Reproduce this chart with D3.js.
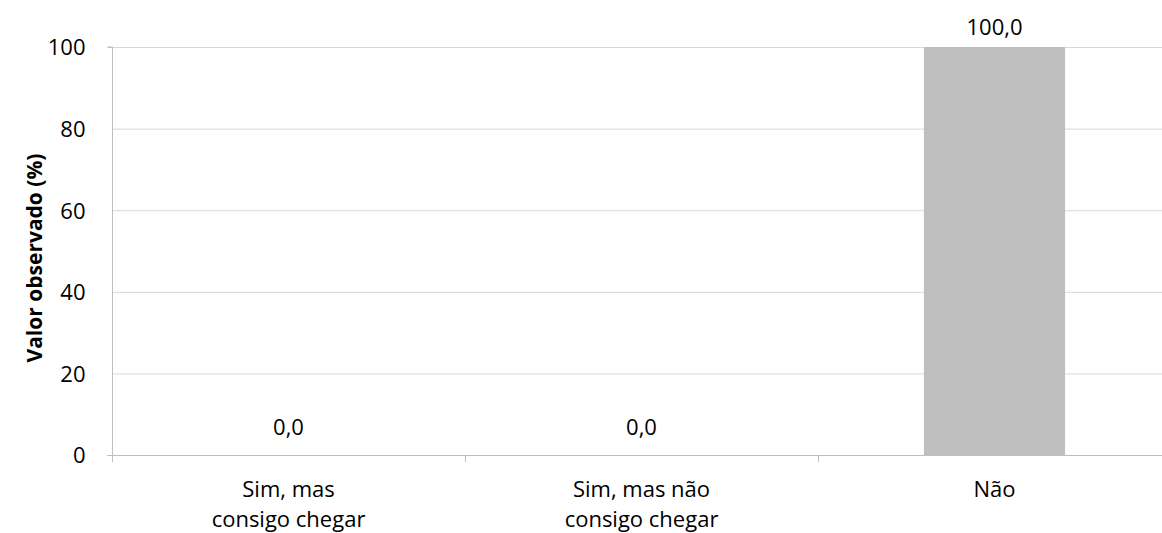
<!DOCTYPE html>
<html>
<head>
<meta charset="utf-8">
<script src="https://cdn.jsdelivr.net/npm/d3@7"></script>
<style>
  body { margin: 0; background: #fff; }
  svg { display: block; font-family: "Open Sans", "Liberation Sans", sans-serif; }
</style>
</head>
<body>
<svg width="1162" height="533"></svg>
<script>
var categories = [["Sim, mas", "consigo chegar"], ["Sim, mas não", "consigo chegar"], ["Não"]];
var values = [0.0, 0.0, 100.0];
var yTicks = [0, 20, 40, 60, 80, 100];

var svg = d3.select("svg"),
	margin = {left: 112, top: 47, bottom: 78},
	plotRight = 1171, // plot runs past the visible edge
	height = +svg.attr("height"),
	fontSize = "22px";

var x = d3.scaleBand()
	.domain(d3.range(categories.length))
	.range([margin.left, plotRight])
	.paddingInner(0.6)
	.paddingOuter(0.3);

var y = d3.scaleLinear()
	.domain([0, 100])
	.range([height - margin.bottom, margin.top]);

// gridlines
svg.append("g")
	.selectAll("line")
	.data(yTicks.slice(1))
	.enter().append("line")
	.attr("x1", margin.left)
	.attr("x2", plotRight)
	.attr("y1", function(d) { return y(d) + 0.5; })
	.attr("y2", function(d) { return y(d) + 0.5; })
	.attr("stroke", "#d9d9d9")
	.attr("stroke-width", 1);

// bars
svg.append("g")
	.selectAll("rect")
	.data(values)
	.enter().append("rect")
	.attr("x", function(d, i) { return x(i); })
	.attr("width", x.bandwidth())
	.attr("y", function(d) { return y(d); })
	.attr("height", function(d) { return y(0) - y(d); })
	.attr("fill", "#bfbfbf");

// y axis
var yAxis = svg.append("g")
	.attr("transform", "translate(" + (margin.left + 0.5) + ",0)")
	.call(d3.axisLeft(y).tickValues(yTicks).tickSize(5).tickPadding(22));
yAxis.select(".domain").attr("stroke", "#bfbfbf").attr("d", "M-5," + y(100) + "H0V" + (y(0) + 0.5) + "H-5");
yAxis.selectAll(".tick line").attr("stroke", "#bfbfbf").filter(function(d) { return d !== 0 && d !== 100; }).remove();
yAxis.selectAll(".tick text")
	.attr("fill", "#000")
	.attr("dy", "0.36em")
	.style("font-size", fontSize)
	.style("font-family", "'Open Sans', sans-serif");

// x axis
var step = x.step();
var xAxisG = svg.append("g");
xAxisG.append("line")
	.attr("x1", margin.left)
	.attr("x2", plotRight)
	.attr("y1", y(0) + 0.5)
	.attr("y2", y(0) + 0.5)
	.attr("stroke", "#bfbfbf");
xAxisG.selectAll("line.tick")
	.data(d3.range(categories.length + 1))
	.enter().append("line")
	.attr("class", "tick")
	.attr("x1", function(d) { return margin.left + d * step + 0.5; })
	.attr("x2", function(d) { return margin.left + d * step + 0.5; })
	.attr("y1", y(0))
	.attr("y2", y(0) + 7)
	.attr("stroke", "#bfbfbf");

var catLabels = xAxisG.selectAll("text")
	.data(categories)
	.enter().append("text")
	.attr("text-anchor", "middle")
	.attr("x", function(d, i) { return x(i) + x.bandwidth() / 2; })
	.attr("y", y(0) + 42)
	.style("font-size", fontSize);
catLabels.selectAll("tspan")
	.data(function(d) { return d; })
	.enter().append("tspan")
	.attr("x", function() { return d3.select(this.parentNode).attr("x"); })
	.attr("dy", function(d, i) { return i === 0 ? 0 : 30; })
	.text(function(d) { return d; });

// value labels
svg.append("g")
	.selectAll("text")
	.data(values)
	.enter().append("text")
	.attr("text-anchor", "middle")
	.attr("x", function(d, i) { return x(i) + x.bandwidth() / 2; })
	.attr("y", function(d) { return Math.max(y(d) - 20, 35); })
	.style("font-size", fontSize)
	.text(function(d) { return d3.format(".1f")(d).replace(".", ","); });

// y title
svg.append("text")
	.attr("transform", "translate(42," + ((y(0) + y(100)) / 2 + 7) + ") rotate(-90)")
	.attr("text-anchor", "middle")
	.style("font-size", "21px")
	.style("font-weight", "bold")
	.text("Valor observado (%)");
</script>
</body>
</html>
